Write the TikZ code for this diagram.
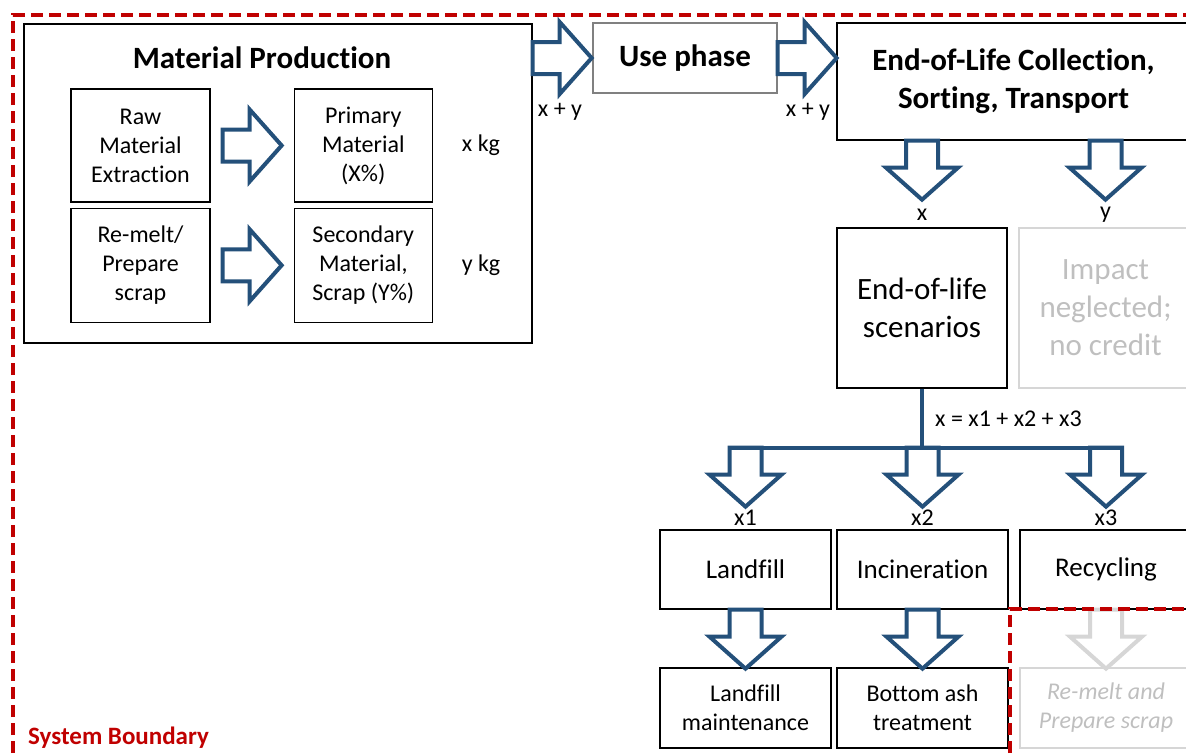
\documentclass[tikz,border=0pt]{standalone}
\usepackage{fontspec}
\setmainfont[Ligatures=NoCommon]{Carlito}
\usepackage{tikz}
\usetikzlibrary{positioning, calc}

\definecolor{arrowblue}{RGB}{36,80,122}
\definecolor{boundred}{RGB}{192,0,0}
\definecolor{ghostgray}{RGB}{191,191,191}
\definecolor{ghostline}{RGB}{214,214,214}

\newcommand{\boxtxt}{\fontsize{24}{29}\selectfont}
\newcommand{\headtxt}{\fontsize{31}{38}\selectfont}
\tikzstyle{box} = [
    rectangle, draw, line width=1.3pt,
    align=center, inner sep=0pt, font=\boxtxt
]
\tikzstyle{ghost} = [box, draw=ghostline, text=ghostgray] % outside the boundary
\tikzstyle{lbl} = [inner sep=0pt, font=\boxtxt]
\tikzstyle{arrowline} = [draw=arrowblue, fill=white, line width=4pt, line join=miter]
\tikzstyle{trunk} = [draw=arrowblue, line width=4pt]
\tikzstyle{boundary} = [draw=boundred, line width=4pt, dash pattern=on 12pt off 6pt]
\tikzset{
    pics/blockarrow/.style={code={
        \draw[arrowline] (0,-16) -- (27,-16) -- (27,-36) -- (59,0)
            -- (27,36) -- (27,16) -- (0,16) -- cycle;
    }}
}

\begin{document}
\begin{tikzpicture}[x=1pt, y=-1pt]
    \useasboundingbox (0,0) rectangle (1186,753);

    % Material production
    \node[box, minimum width=508, minimum height=319] (mp) at (278,183.5) {};
    \node[lbl, font=\headtxt] (mptitle) at (262,58) {\textbf{Material Production}};
    \node[box, minimum width=139, minimum height=113] (raw) at (140.5,145.5) {Raw\\Material\\Extraction};
    \node[box, minimum width=138, minimum height=113, right=83pt of raw] (primary) {Primary\\Material\\(X\%)};
    \node[box, minimum width=139, minimum height=114, below=5pt of raw] (remelt) {Re-melt/\\Prepare\\scrap};
    \node[box, minimum width=138, minimum height=114, below=5pt of primary] (secondary) {Secondary\\Material,\\Scrap (Y\%)};
    \node[lbl] (xkg) at (481,145) {x kg};
    \node[lbl] (ykg) at (481,265) {y kg};
    \pic at ([xshift=12pt]raw.east) {blockarrow};
    \pic at ([xshift=12pt]remelt.east) {blockarrow};

    % Use phase and collection
    \node[box, draw=gray, font=\headtxt, minimum width=184, minimum height=70] (use) at (685,58) {\textbf{Use phase}};
    \node[box, font=\headtxt, minimum width=353, minimum height=117] (eolc) at (1013.5,81.5) {\textbf{End-of-Life Collection,}\\\textbf{Sorting, Transport}};
    \pic at (mp.east |- use.west) {blockarrow};
    \pic at (use.east) {blockarrow};
    \node[lbl] (xy1) at (560,112) {x + y};
    \node[lbl] (xy2) at (808,112) {x + y};

    % End-of-life split
    \node[box, font=\headtxt, minimum width=170, minimum height=160] (eols) at (922,308) {End-of-life\\scenarios};
    \node[ghost, font=\headtxt, minimum width=173, minimum height=160] (impact) at (1105.5,308) {Impact\\neglected;\\no credit};
    \pic[rotate=-90] at (eols.north |- eolc.south) {blockarrow};
    \pic[rotate=-90] at (impact.north |- eolc.south) {blockarrow};
    \node[lbl] (xlbl) at ([yshift=13pt]eols.north) {x};
    \node[lbl] (ylbl) at ([yshift=13pt]impact.north) {y};

    % Treatment routes
    \node[box, font=\fontsize{27}{33}\selectfont, minimum width=171, minimum height=79] (landfill) at (745.5,569.5) {Landfill};
    \node[box, font=\fontsize{27}{33}\selectfont, minimum width=171, minimum height=79] (incin) at (922.5,569.5) {Incineration};
    \node[box, font=\fontsize{27}{33}\selectfont, minimum width=172, minimum height=79] (recyc) at (1106,569.5) {Recycling};
    \coordinate (bar) at ([yshift=-59pt]eols.south);
    \foreach \n in {landfill, incin, recyc}
        \pic[rotate=-90] at (\n.north |- bar) {blockarrow};
    \draw[trunk] (eols.south) -- (bar);
    \draw[trunk] ($(landfill.north |- bar)+(-16,0)$) -- ($(recyc.north |- bar)+(16,0)$);
    \node[lbl, anchor=west] (split) at ([xshift=13pt, yshift=-30pt]eols.south) {x = x1 + x2 + x3};
    \node[lbl] (x1) at ([yshift=12pt]landfill.north) {x1};
    \node[lbl] (x2) at ([yshift=12pt]incin.north) {x2};
    \node[lbl] (x3) at ([yshift=12pt]recyc.north) {x3};

    % After-treatment
    \node[box, minimum width=171, minimum height=80] (lfm) at (745.5,708) {Landfill\\maintenance};
    \node[box, minimum width=171, minimum height=80] (bat) at (922.5,708) {Bottom ash\\treatment};
    \node[ghost, minimum width=172, minimum height=80] (remeltb) at (1106,708) {\textit{Re-melt and}\\\textit{Prepare scrap}};
    \pic[rotate=-90] at (landfill.south) {blockarrow};
    \pic[rotate=-90] at (incin.south) {blockarrow};
    \begin{scope}[arrowline/.style={draw=ghostline, fill=white, line width=4pt, line join=miter}]
        \pic[rotate=-90] at (recyc.south) {blockarrow};
    \end{scope}

    % System boundary
    \draw[boundary] (13,753) -- (13,15) -- (1186,15);
    \draw[boundary] (1010,753) -- (1010,609) -- (1186,609);
    \node[anchor=west, inner sep=0pt, text=boundred, font=\fontsize{25}{30}\selectfont\bfseries] (sysb) at (28,738) {System Boundary};
\end{tikzpicture}
\end{document}
